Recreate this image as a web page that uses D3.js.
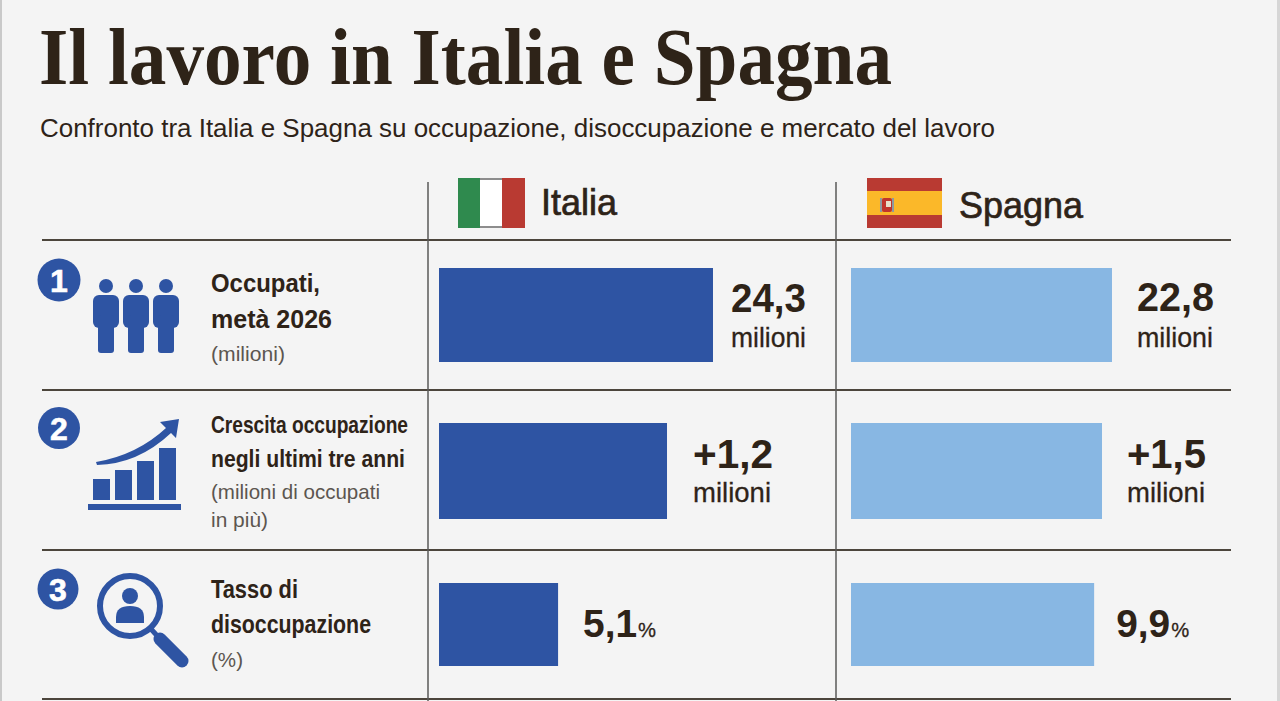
<!DOCTYPE html>
<html lang="it">
<head>
<meta charset="utf-8">
<title>Il lavoro in Italia e Spagna</title>
<script src="https://cdn.jsdelivr.net/npm/d3@7/dist/d3.min.js"></script>
<style>
  html, body { margin: 0; padding: 0; background: #f4f4f4; overflow: hidden; }
  svg { display: block; }
  text { font-family: "Liberation Sans", Arial, sans-serif; fill: #2e2318; }
</style>
</head>
<body>
<div id="chart"></div>
<script>
// data
const countries = ["Italia", "Spagna"];
const italia = [24.3, 1.2, 5.1];
const spagna = [22.8, 1.5, 9.9];
const units = ["milioni", "milioni", "%"];
const signed = [false, true, false];
const rowNumbers = ["1", "2", "3"];
const rowTitles = [
  ["Occupati,", "metà 2026"],
  ["Crescita occupazione", "negli ultimi tre anni"],
  ["Tasso di", "disoccupazione"]
];
const rowNotes = [
  ["(milioni)"],
  ["(milioni di occupati", "in più)"],
  ["(%)"]
];
// the original bars do not start from zero: each row has its own axis
const rowDomains = [[-7.3, 27.3], [-1.774, 2.139], [0.493, 12.1]];

// layout
const width = 1280, height = 701;
const ink = "#2e2318", grey = "#5c5650", blue = "#2e54a3", light = "#88b7e3", bg = "#f4f4f4";
const rowEdges = [240, 390, 550, 699];
const barPadTop = [28, 33, 33], barPadBottom = [28, 31, 33];
const colStart = [439, 851];
const barColors = [blue, light];
const barMax = 300;
const valueGap = [[18, 25], [26, 25], [25, 22]];
const valueWidth = [[75, 77], [80, 79], [54, 54]];
const valueBase = [[312, 311], [468, 468], [637, 637]];
const unitBase = [[347, 347], [502, 502], [637, 637]];
const unitWidth = [[75, 76], [78, 78], [18, 18]];
const titleLayout = [
  [{ y: 292, w: 109, s: 26 }, { y: 328, w: 121, s: 26 }],
  [{ y: 433, w: 197, s: 24 }, { y: 467, w: 194, s: 24 }],
  [{ y: 598, w: 87, s: 26 }, { y: 633, w: 160, s: 26 }]
];
const noteLayout = [
  [{ y: 361, w: 74 }],
  [{ y: 499, w: 169 }, { y: 527, w: 57 }],
  [{ y: 667, w: 32 }]
];

const svg = d3.select("#chart").append("svg")
  .attr("width", width)
  .attr("height", height);

svg.append("rect").attr("width", width).attr("height", height).attr("fill", bg);
svg.append("rect").attr("width", 2).attr("height", height).attr("fill", "#c9c9c9");
svg.append("rect").attr("x", 1277).attr("width", 3).attr("height", height).attr("fill", "#d6d6d6");

function label(parent, str, x, y, size, w, opts = {}) {
  return parent.append("text")
    .attr("x", x)
    .attr("y", y)
    .attr("font-size", size)
    .attr("font-weight", opts.bold ? "bold" : "normal")
    .attr("textLength", w)
    .attr("lengthAdjust", "spacingAndGlyphs")
    .style("font-family", opts.family || null)
    .style("fill", opts.fill || ink)
    .style("stroke", opts.stroke ? (opts.fill || ink) : "none")
    .style("stroke-width", opts.stroke || 0)
    .text(str);
}

// heading
label(svg, "Il lavoro in Italia e Spagna", 39, 84, 80, 853, { bold: true, family: "'Liberation Serif', serif" });
label(svg, "Confronto tra Italia e Spagna su occupazione, disoccupazione e mercato del lavoro", 40, 137, 26, 955);

// grid
svg.append("g").selectAll("line").data(rowEdges).join("line")
  .attr("x1", 42).attr("x2", 1231)
  .attr("y1", d => d).attr("y2", d => d)
  .attr("stroke", "#4c453c").attr("stroke-width", 2);
svg.append("g").selectAll("line").data([428, 836]).join("line")
  .attr("x1", d => d).attr("x2", d => d)
  .attr("y1", 182).attr("y2", height)
  .attr("stroke", "#5a5a58").attr("stroke-width", 1.5);

// flags and country names
const it = svg.append("g");
it.append("rect").attr("x", 458).attr("y", 178).attr("width", 67).attr("height", 50).attr("rx", 1).attr("fill", "#fff");
it.append("rect").attr("x", 458).attr("y", 178).attr("width", 22).attr("height", 50).attr("fill", "#2f8a4e");
it.append("rect").attr("x", 502).attr("y", 178).attr("width", 23).attr("height", 50).attr("fill", "#b93a32");
it.append("rect").attr("x", 480).attr("y", 178).attr("width", 22).attr("height", 2).attr("fill", "#8d8d8d");
it.append("rect").attr("x", 480).attr("y", 226).attr("width", 22).attr("height", 2).attr("fill", "#8d8d8d");
label(svg, countries[0], 541, 215, 36, 76, { stroke: 0.7 });

const es = svg.append("g");
es.append("rect").attr("x", 867).attr("y", 178).attr("width", 75).attr("height", 50).attr("fill", "#b93a32");
es.append("rect").attr("x", 867).attr("y", 191).attr("width", 75).attr("height", 24).attr("fill", "#fbb829");
es.append("rect").attr("x", 882).attr("y", 198).attr("width", 10).attr("height", 14).attr("rx", 2).attr("fill", "#c1352c");
es.append("rect").attr("x", 880).attr("y", 198).attr("width", 2).attr("height", 14).attr("fill", "#8f9aa0");
es.append("rect").attr("x", 892).attr("y", 198).attr("width", 2).attr("height", 14).attr("fill", "#8f9aa0");
es.append("rect").attr("x", 886).attr("y", 201).attr("width", 5).attr("height", 6).attr("fill", "#e8dfc9");
label(svg, countries[1], 959, 218, 37, 124, { stroke: 0.7 });

// row numbers
const badges = [{ x: 59, y: 280, r: 21.5 }, { x: 59, y: 428, r: 21 }, { x: 58, y: 589, r: 20.5 }];
badges.forEach((b, i) => {
  svg.append("circle").attr("cx", b.x).attr("cy", b.y).attr("r", b.r).attr("fill", blue);
  svg.append("text")
    .attr("x", b.x).attr("y", b.y + 11.5)
    .attr("text-anchor", "middle")
    .attr("font-size", 32).attr("font-weight", "bold")
    .style("fill", "#fff").style("stroke", "#fff").style("stroke-width", 0.6)
    .text(rowNumbers[i]);
});

// icon 1, three people
const people = svg.append("g").attr("fill", blue);
[106, 136, 166].forEach(cx => {
  people.append("circle").attr("cx", cx).attr("cy", 286).attr("r", 7);
  people.append("rect").attr("x", cx - 13).attr("y", 295).attr("width", 26).attr("height", 33).attr("rx", 6);
  people.append("rect").attr("x", cx - 8).attr("y", 315).attr("width", 16).attr("height", 38).attr("rx", 3);
});

// icon 2, growth
const growth = svg.append("g").attr("fill", blue);
growth.append("rect").attr("x", 88).attr("y", 504).attr("width", 93).attr("height", 6);
[[93, 479], [115, 470], [137, 461], [159, 448]].forEach(([x, y]) => {
  growth.append("rect").attr("x", x).attr("y", y).attr("width", 17).attr("height", 500 - y);
});
growth.append("path").attr("d", "M96,462 Q137,455 166,428 L160,422 L179,419 L176,438 L171,433 Q138,464 97,465 Z");

// icon 3, magnifier
const lens = svg.append("g");
lens.append("circle").attr("cx", 130).attr("cy", 606).attr("r", 30)
  .attr("fill", "none").attr("stroke", blue).attr("stroke-width", 6);
lens.append("line").attr("x1", 150).attr("y1", 628).attr("x2", 162).attr("y2", 641)
  .attr("stroke", blue).attr("stroke-width", 5);
lens.append("line").attr("x1", 160).attr("y1", 639).attr("x2", 182).attr("y2", 661)
  .attr("stroke", blue).attr("stroke-width", 13).attr("stroke-linecap", "round");
lens.append("circle").attr("cx", 130).attr("cy", 596).attr("r", 8).attr("fill", blue);
lens.append("path").attr("d", "M116,623 V617 Q116,606 130,606 Q144,606 144,617 V623 Z").attr("fill", blue);

// row labels
rowTitles.forEach((lines, i) => {
  lines.forEach((str, j) => {
    const l = titleLayout[i][j];
    label(svg, str, 211, l.y, l.s, l.w, { bold: true });
  });
  rowNotes[i].forEach((str, j) => {
    const l = noteLayout[i][j];
    label(svg, str, 211, l.y, 21, l.w, { fill: grey });
  });
});

// bars
const itFormat = d3.formatLocale({ decimal: ",", thousands: ".", grouping: [3], currency: ["", " €"] });
const series = [italia, spagna];

series.forEach((values, c) => {
  const g = svg.append("g").attr("class", "series-" + countries[c]);

  values.forEach((v, i) => {
    const x = d3.scaleLinear().domain(rowDomains[i]).range([colStart[c], colStart[c] + barMax]);
    const y0 = rowEdges[i] + barPadTop[i];
    const y1 = rowEdges[i + 1] - barPadBottom[i];

    g.append("rect")
      .attr("x", x.range()[0])
      .attr("y", y0)
      .attr("width", x(v) - x.range()[0])
      .attr("height", y1 - y0)
      .attr("fill", barColors[c]);

    const start = x(v) + valueGap[i][c];
    const txt = itFormat.format(signed[i] ? "+.1f" : ".1f")(v);
    const isPct = units[i] === "%";
    label(g, txt, start, valueBase[i][c], isPct ? 39 : 41, valueWidth[i][c], { bold: true });

    // percent sign sits on the same line, the others go underneath
    if (isPct) {
      label(g, units[i], start + valueWidth[i][c] + 1, unitBase[i][c], 21, unitWidth[i][c], { stroke: 0.3 });
    } else {
      label(g, units[i], start, unitBase[i][c], 28, unitWidth[i][c], { stroke: 0.3 });
    }
  });
});
</script>
</body>
</html>
